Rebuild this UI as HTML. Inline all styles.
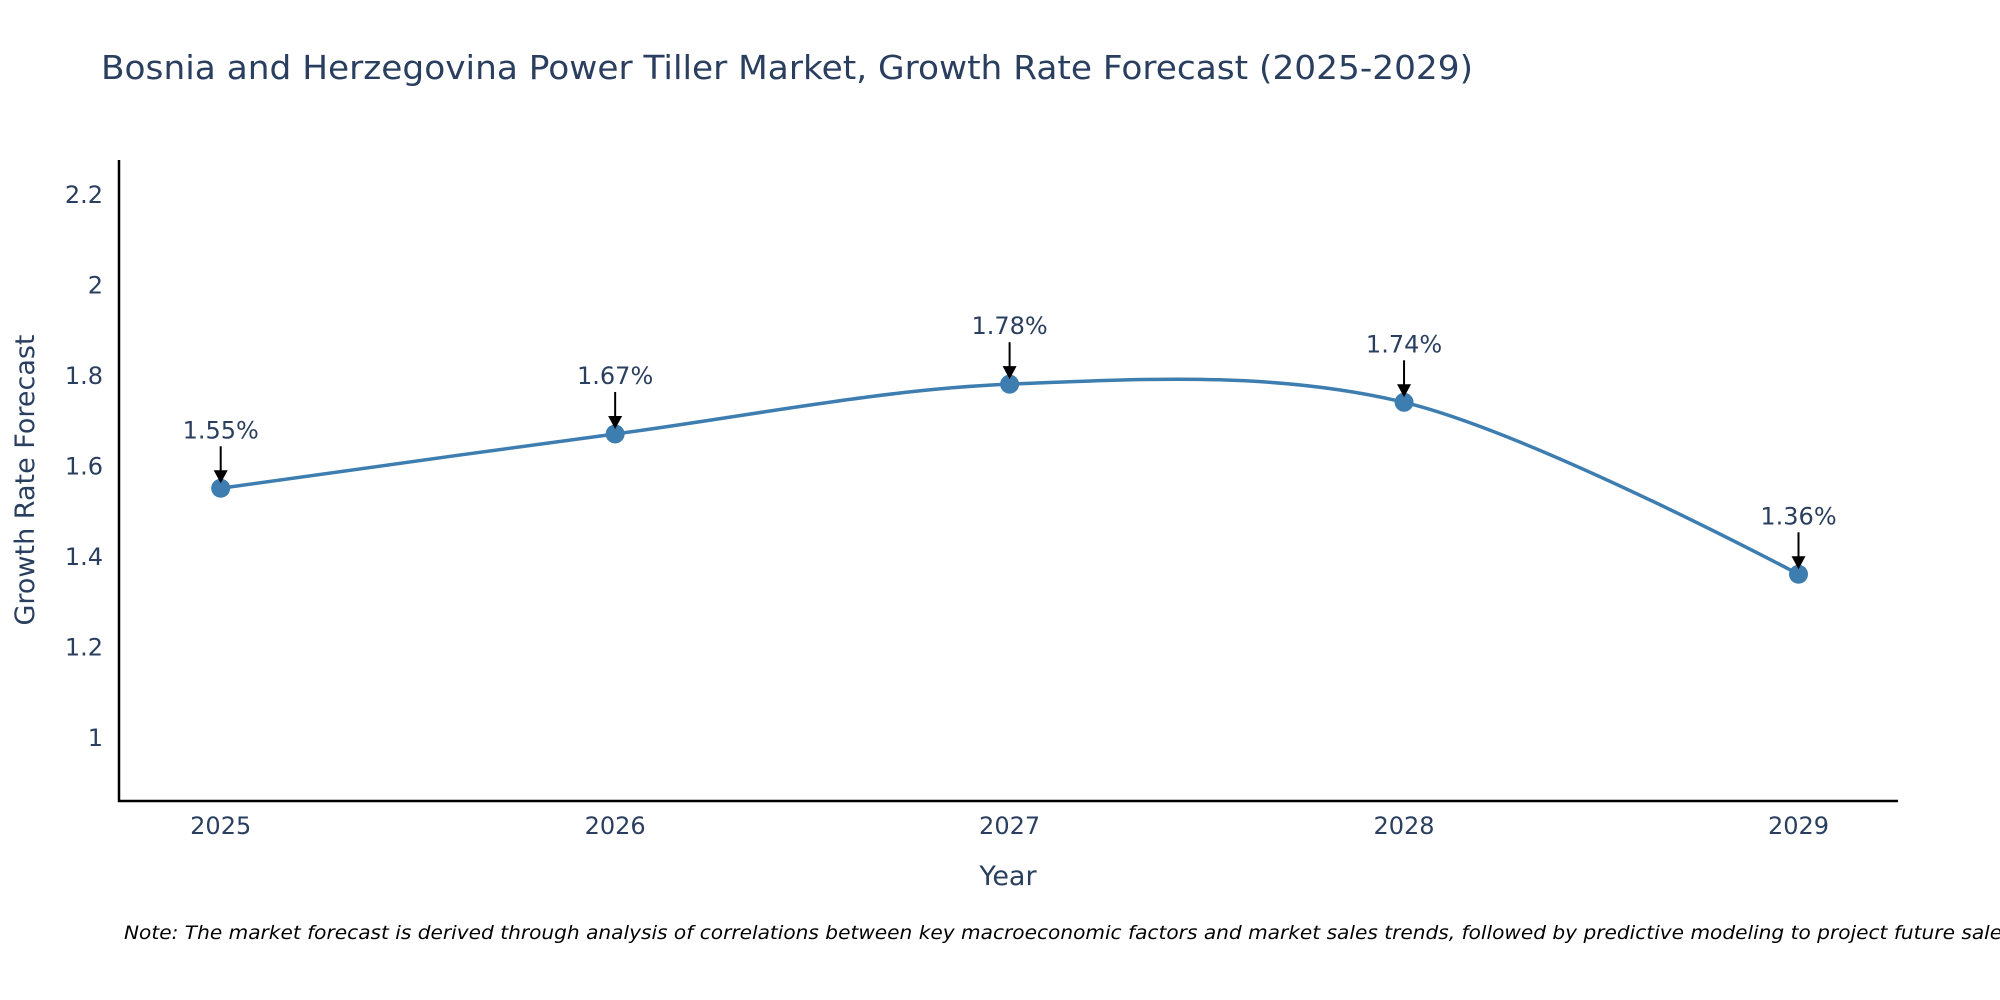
<!DOCTYPE html>
<html><head><meta charset="utf-8"><style>
html,body{margin:0;padding:0;background:#fff;}
svg{display:block;font-family:"DejaVu Sans","Liberation Sans",sans-serif;}
</style></head><body>
<svg id="chart" width="2000" height="1000" viewBox="0 0 2000 1000">
<text x="101" y="79" font-size="33" fill="#2a3f5f" textLength="1372" lengthAdjust="spacingAndGlyphs">Bosnia and Herzegovina Power Tiller Market, Growth Rate Forecast (2025-2029)</text>
<g id="yticks"></g>
<g id="xticks"></g>
<line x1="119" y1="160" x2="119" y2="802" stroke="#000" stroke-width="2.5"/>
<line x1="118" y1="801" x2="1898" y2="801" stroke="#000" stroke-width="2.5"/>
<path id="line" fill="none" stroke="#3d7db0" stroke-width="3.5"/>
<g id="points"></g>
<g id="annots"></g>
<text x="1008" y="885" font-size="27" fill="#2a3f5f" text-anchor="middle">Year</text>
<text transform="translate(34,480) rotate(-90)" font-size="27" fill="#2a3f5f" text-anchor="middle">Growth Rate Forecast</text>
<text x="124" y="939" font-size="19" font-style="italic" fill="#000" textLength="1895" lengthAdjust="spacingAndGlyphs">Note: The market forecast is derived through analysis of correlations between key macroeconomic factors and market sales trends, followed by predictive modeling to project future sales.</text>
</svg>
<script>
const years=[2025,2026,2027,2028,2029];
const values=[1.55,1.67,1.78,1.74,1.36];
const labels=["1.55%","1.67%","1.78%","1.74%","1.36%"];
const yTicks=[1,1.2,1.4,1.6,1.8,2,2.2];
const yTickLabels=["1","1.2","1.4","1.6","1.8","2","2.2"];
const NS="http://www.w3.org/2000/svg";
function xs(v){return 220.7+(v-2025)*(1798.5-220.7)/4;}
function ys(v){return 737.2-(v-1)*(737.2-194.1)/1.2;}
function mk(t,a,p){const e=document.createElementNS(NS,t);for(const k in a)e.setAttribute(k,a[k]);p.appendChild(e);return e;}
const yt=document.getElementById('yticks');
yTicks.forEach((v,i)=>{const t=mk('text',{x:103,y:ys(v)+9,'font-size':24,fill:'#2a3f5f','text-anchor':'end'},yt);t.textContent=yTickLabels[i];

});
const xt=document.getElementById('xticks');
years.forEach(y=>{const t=mk('text',{x:xs(y),y:834,'font-size':24,fill:'#2a3f5f','text-anchor':'middle'},xt);t.textContent=String(y);

});
const P=years.map((y,i)=>[xs(y),ys(values[i])]);
let d=`M${P[0][0]},${P[0][1]}`;const k=0.33;
for(let i=0;i<P.length-1;i++){const p0=P[Math.max(0,i-1)],p1=P[i],p2=P[i+1],p3=P[Math.min(P.length-1,i+2)];
const c1=[p1[0]+(p2[0]-p0[0])*k/2*(i==0?0:1),p1[1]+(p2[1]-p0[1])*k/2*(i==0?0:1)];
const c2=[p2[0]-(p3[0]-p1[0])*k/2*(i==P.length-2?0:1),p2[1]-(p3[1]-p1[1])*k/2*(i==P.length-2?0:1)];
d+=` C${c1[0]},${c1[1]} ${c2[0]},${c2[1]} ${p2[0]},${p2[1]}`;}
document.getElementById('line').setAttribute('d',d);
const pts=document.getElementById('points'),an=document.getElementById('annots');
P.forEach((p,i)=>{const c=mk('circle',{cx:p[0],cy:p[1],r:9.5,fill:'#3d7db0'},pts);


const l=mk('line',{x1:p[0],y1:p[1]-42,x2:p[0],y2:p[1]-16,stroke:'#000','stroke-width':2},an);


const h=mk('polygon',{points:`${p[0]-7},${p[1]-18} ${p[0]+7},${p[1]-18} ${p[0]},${p[1]-5}`,fill:'#000'},an);


const t=mk('text',{x:p[0],y:p[1]-50,'font-size':24,fill:'#2a3f5f','text-anchor':'middle'},an);t.textContent=labels[i];

});
</script>
</body></html>
